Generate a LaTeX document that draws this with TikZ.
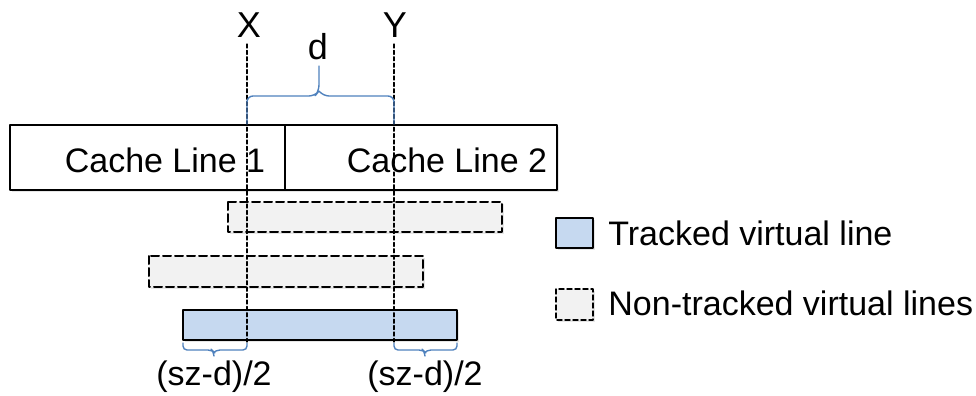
\documentclass[tikz,border=0pt]{standalone}
\usepackage{fontspec}
\setmainfont{Liberation Sans}
\usetikzlibrary{shadows}
\definecolor{trackblue}{RGB}{198,217,240}
\definecolor{untrackgray}{RGB}{242,242,242}
\definecolor{braceblue}{RGB}{79,129,189}
\tikzset{
	guide/.style={line width=0.6pt,dash pattern=on 2pt off 1.2pt},
	cachebox/.style={line width=0.8pt,fill=white,drop shadow={shadow xshift=1pt,shadow yshift=-1pt,opacity=0.2}},
	tracked/.style={line width=1pt,fill=trackblue,drop shadow={shadow xshift=1pt,shadow yshift=-1pt,opacity=0.2}},
	untracked/.style={line width=1pt,dash pattern=on 4pt off 2pt,fill=untrackgray,drop shadow={shadow xshift=1pt,shadow yshift=-1pt,opacity=0.2}},
	bracket/.style={line width=0.7pt,color=braceblue},
	lbl/.style={font=\fontsize{17}{20}\selectfont,anchor=base}
}
\begin{document}
\begin{tikzpicture}[line cap=round,line join=round,x=0.5pt,y=-0.5pt]
				\useasboundingbox (0,0) rectangle (976,396);
				% cache lines
				\draw [cachebox] (10,125) rectangle (285,190);
				\draw [cachebox] (285,125) rectangle (557,190);
				\node [lbl] (cl1) at (165,172) {Cache Line 1};
				\node [lbl] (cl2) at (447,172) {Cache Line 2};
				% virtual lines
				\draw [untracked] (228,202) rectangle (502,232);
				\draw [untracked] (149,256) rectangle (423,287);
				\draw [tracked] (183,310) rectangle (457,340);
				% X and Y
				\coordinate (xtop) at (247,44);
				\coordinate (xbot) at (247,342);
				\coordinate (ytop) at (394,44);
				\coordinate (ybot) at (394,342);
				\draw [guide] (xtop)-- (xbot);
				\draw [guide] (ytop)-- (ybot);
				\node [lbl,font=\fontsize{18}{21}\selectfont] (xlab) at (249,38) {X};
				\node [lbl,font=\fontsize{18}{21}\selectfont] (ylab) at (395,38) {Y};
				\node [lbl,font=\fontsize{18}{21}\selectfont] (dlab) at (318,60) {d};
				% braces
				\draw [bracket,rounded corners=3pt] (247,124)-- (247,96)-- (315,96)-- (319,91)-- (319,66);
				\draw [bracket,rounded corners=3pt] (394,124)-- (394,96)-- (323,96)-- (319,91);
				\draw [bracket,rounded corners=2pt] (183,343)-- (183,350)-- (212,350)-- (214,352)-- (214,356);
				\draw [bracket,rounded corners=2pt] (247,343)-- (247,350)-- (216,350)-- (214,352);
				\draw [bracket,rounded corners=2pt] (394,343)-- (394,350)-- (423,350)-- (425,352)-- (425,356);
				\draw [bracket,rounded corners=2pt] (457,343)-- (457,350)-- (427,350)-- (425,352);
				\node [lbl] (szl) at (214,385) {(sz-d)/2};
				\node [lbl] (szr) at (425,385) {(sz-d)/2};
				% legend
				\draw [tracked] (556,218) rectangle (593,248);
				\node [lbl,anchor=base west,inner sep=0pt] (lt) at (608,245) {Tracked virtual line};
				\draw [untracked,dash pattern=on 2.5pt off 1.5pt,line width=0.7pt] (556,289) rectangle (593,320);
				\node [lbl,anchor=base west,inner sep=0pt] (lu) at (608,315) {Non-tracked virtual lines};
\end{tikzpicture}
\end{document}
